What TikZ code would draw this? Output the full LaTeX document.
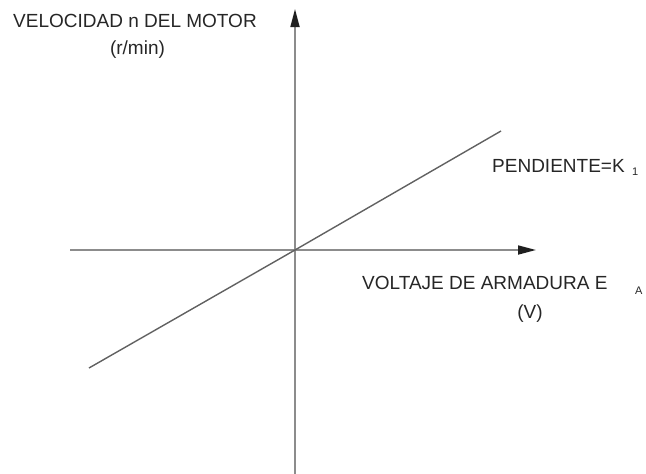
\documentclass[tikz,border=0pt]{standalone}
\usepackage{fontspec}
\setmainfont{Liberation Sans}
\usetikzlibrary{arrows.meta}
\begin{document}
\begin{tikzpicture}[x=1pt,y=-1pt,
  axis/.style={draw=black!45,line width=1.7pt,-{Triangle[length=18pt,width=9pt,color=black!88]}},
  graph/.style={draw=black!62,line width=1.4pt},
  lbl/.style={inner sep=0pt,font=\fontsize{19}{22}\selectfont,text=black!85},
  sub/.style={inner sep=0pt,font=\fontsize{11}{13}\selectfont,text=black!85}]
\useasboundingbox (0,0) rectangle (646,474);
\coordinate (o) at (295,250);
\coordinate (xl) at (70,250);
\coordinate (xr) at (536,250);
\coordinate (yb) at (295,474);
\coordinate (yt) at (295,9);
\coordinate (la) at (89,368);
\coordinate (lb) at (501,131);
\draw[axis] (xl) -- (xr);
\draw[axis] (yb) -- (yt);
\draw[graph] (la) -- (o) -- (lb);
\node[lbl,anchor=base west] (vel) at (13,27) {VELOCIDAD n DEL MOTOR};
\node[lbl,anchor=base] (rmin) at (137.5,54) {(r/min)};
\node[lbl,anchor=base west] (pend) at (492,172) {PENDIENTE=K};
\node[sub,anchor=base west] (k1) at (632,175) {1};
\node[lbl,anchor=base west] (volt) at (362,289) {VOLTAJE DE ARMADURA E};
\node[sub,anchor=base west] (ea) at (635,294) {A};
\node[lbl,anchor=base] (vv) at (530,318) {(V)};
\end{tikzpicture}
\end{document}
